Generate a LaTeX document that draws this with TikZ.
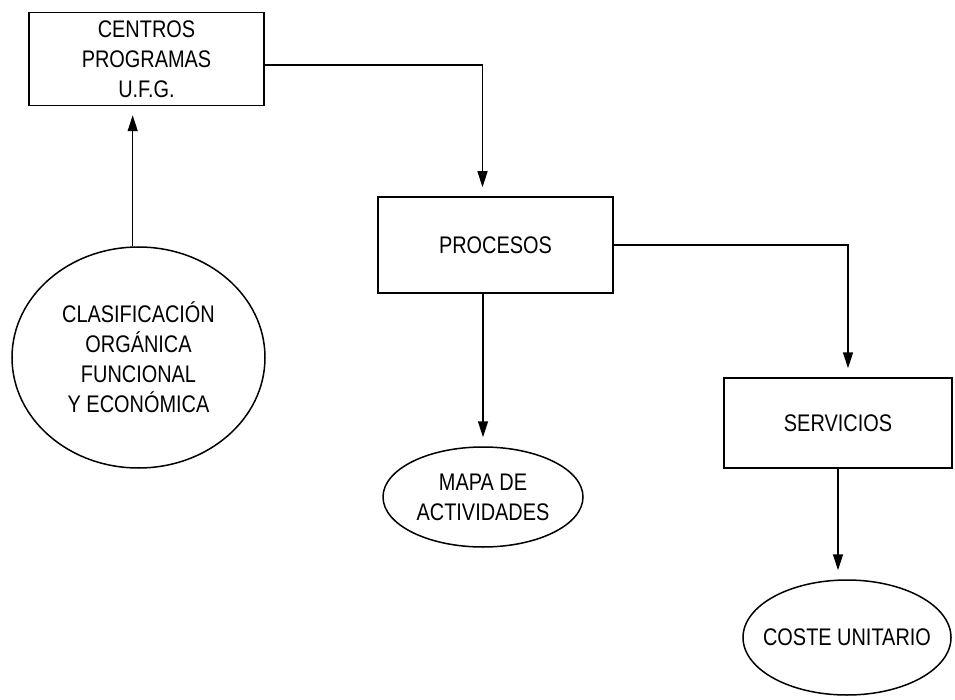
\documentclass[tikz,border=0pt]{standalone}
\usepackage{fontspec}
\setmainfont{Liberation Sans}[FakeStretch=0.83]
\usetikzlibrary{arrows.meta,shapes.geometric}

\tikzset{
  box/.style={rectangle,draw,align=center},
  bubble/.style={ellipse,draw,align=center,inner sep=0pt},
  arr/.style={-{Triangle[length=16pt,width=10pt]},shorten >=9pt}
}

\begin{document}
\begin{tikzpicture}[x=1pt,y=-1pt,line width=1.5pt,font=\fontsize{24}{30}\selectfont]

        \useasboundingbox (0,0) rectangle (955,700);

        % boxes
        \node[box,minimum width=235pt,minimum height=93pt] (centros)   at (146.5,59)  {CENTROS\\PROGRAMAS\\U.F.G.};
        \node[box,minimum width=235pt,minimum height=96pt] (procesos)  at (495.5,245) {PROCESOS};
        \node[box,minimum width=228pt,minimum height=90pt] (servicios) at (838,423)   {SERVICIOS};

        % ellipses
        \node[bubble,minimum width=253pt,minimum height=221pt] (clasif) at (138.5,357.5) {CLASIFICACIÓN\\ORGÁNICA\\FUNCIONAL\\Y ECONÓMICA};
        \node[bubble,minimum width=200pt,minimum height=100pt] (mapa)   at (483,497)     {MAPA DE\\ACTIVIDADES};
        \node[bubble,minimum width=208pt,minimum height=115pt] (coste)  at (847,637.5)   {\makebox[0pt]{COSTE UNITARIO}};

        % connectors
        \draw[arr] (clasif.93) -- (clasif.93 |- centros.south);
        \draw[arr] ([yshift=-6pt]centros.east) -| ([xshift=-13pt]procesos.north);
        \draw[arr] (mapa.north |- procesos.south) -- (mapa.north);
        \draw[arr] (procesos.east) -| ([xshift=10pt]servicios.north);
        \draw[arr] (servicios.south) -- (servicios.south |- coste.north);

      \end{tikzpicture}
\end{document}
